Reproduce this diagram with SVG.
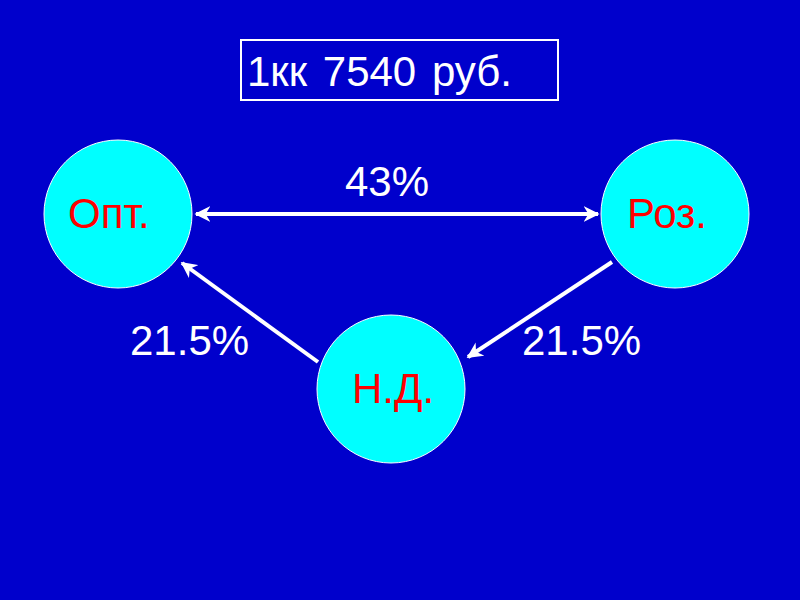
<svg xmlns="http://www.w3.org/2000/svg" width="800" height="600" viewBox="0 0 800 600">
<style>
.node{fill:#00FFFF;stroke:#FFFFFF;stroke-width:1}
.lbl{font-family:"Liberation Sans",Arial,sans-serif;font-size:42px;fill:#FF0000}
.w{font-family:"Liberation Sans",Arial,sans-serif;font-size:42px;fill:#FFFFFF}
.edge{stroke:#FFFFFF;stroke-width:4;fill:none}
</style>
<defs>
<marker id="ah" viewBox="0 0 10 10" refX="9" refY="5" markerWidth="4" markerHeight="4" orient="auto-start-reverse" markerUnits="strokeWidth">
<path d="M0,0 L10,5 L0,10 L3,5 Z" fill="#FFFFFF"/>
</marker>
</defs>
<rect width="800" height="600" fill="#0000CC"/>
<g id="title">
<rect x="241" y="40" width="317" height="60" fill="none" stroke="#FFFFFF" stroke-width="2"/>
<text x="247" y="86" class="w" font-size="40" word-spacing="4">1кк 7540 руб.</text>
</g>
<g id="connectors">
<line class="edge" x1="196" y1="214" x2="598" y2="214" marker-start="url(#ah)" marker-end="url(#ah)"/>
<line class="edge" x1="318" y1="362" x2="182" y2="263" marker-end="url(#ah)"/>
<line class="edge" x1="612" y1="262" x2="468" y2="357" marker-end="url(#ah)"/>
<text x="387" y="196" class="w" text-anchor="middle">43%</text>
<text x="130" y="355" class="w">21.5%</text>
<text x="522" y="355" class="w">21.5%</text>
</g>
<g id="opt">
<circle class="node" cx="118" cy="214" r="74"/>
<text x="68" y="228" class="lbl">Опт.</text>
</g>
<g id="roz">
<circle class="node" cx="675" cy="214" r="74"/>
<text x="627" y="228" class="lbl">Роз.</text>
</g>
<g id="nd">
<circle class="node" cx="391" cy="389" r="74"/>
<text x="352" y="403" class="lbl">Н.Д.</text>
</g>
</svg>
